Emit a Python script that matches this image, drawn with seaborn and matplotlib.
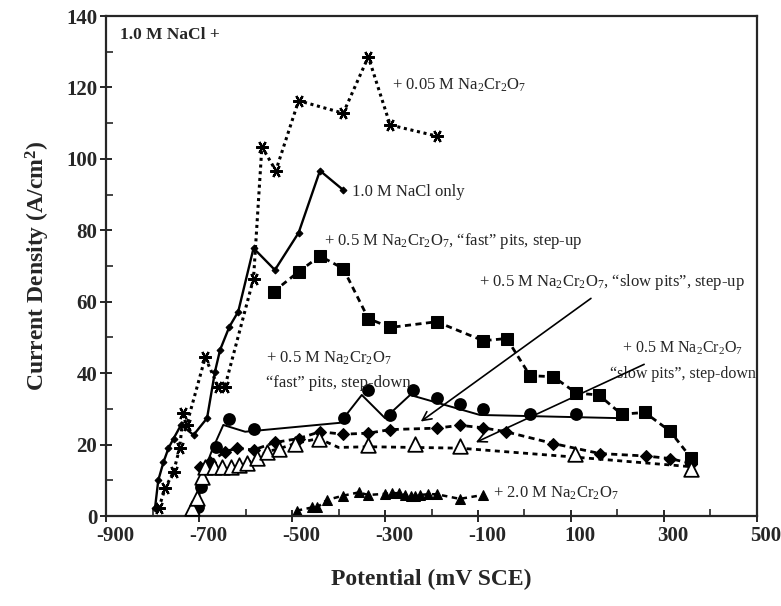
import numpy as np
import pandas as pd
import matplotlib
matplotlib.use('Agg')
import matplotlib.pyplot as plt
import matplotlib.transforms as mtransforms
from matplotlib.ticker import MultipleLocator, FixedLocator
import seaborn as sns

# ---- data (potential mV SCE, current density A/cm2) ----
# + 0.05 M Na2Cr2O7 (dotted, asterisks)
cr005_x = [-787, -773, -755, -742, -734, -727, -687, -659, -645, -583, -565, -535, -486, -390, -336, -289, -189]
cr005_y = [2.2, 7.8, 12.4, 19.0, 28.8, 25.5, 44.4, 36.2, 36.0, 66.5, 103.4, 96.7, 116.3, 112.8, 128.6, 109.5, 106.4]

# 1.0 M NaCl only (solid, small diamonds)
nacl_x = [-795, -788, -777, -766, -755, -739, -712, -683, -666, -655, -635, -616, -583, -537, -486, -440, -390]
nacl_y = [2.2, 10.0, 15.0, 19.0, 21.7, 25.5, 22.7, 27.4, 40.4, 46.5, 53.0, 57.2, 75.0, 68.9, 79.3, 96.7, 91.3]

# + 0.5 M Na2Cr2O7, "fast" pits, step-up (dashed, squares)
fast_up_x = [-540, -486, -440, -390, -336, -289, -189, -89, -38, 12, 62, 112, 160, 209, 259, 313, 359]
fast_up_y = [62.8, 68.4, 72.8, 69.3, 55.3, 52.8, 54.4, 49.1, 49.7, 39.3, 39.0, 34.4, 33.9, 28.5, 29.0, 23.8, 16.2]

# + 0.5 M Na2Cr2O7, "slow pits", step-up (solid line, filled circles)
slow_up_line_x = [-705, -698, -688, -672, -648, -601, -397, -350, -300, -246, -96, 205]
slow_up_line_y = [1.5, 7.0, 13.0, 18.5, 25.5, 23.6, 26.1, 33.9, 27.4, 33.9, 28.3, 27.4]
slow_up_pts_x = [-702, -695, -664, -636, -583, -388, -337, -289, -239, -189, -139, -89, 12, 112]
slow_up_pts_y = [2.4, 8.2, 19.4, 27.2, 24.4, 27.4, 35.3, 28.3, 35.3, 33.0, 31.5, 29.9, 28.5, 28.6]

# + 0.5 M Na2Cr2O7, "fast" pits, step-down (dashed, small filled diamonds)
fast_dn_x = [-698, -676, -644, -619, -583, -537, -486, -440, -390, -336, -289, -189, -139, -89, -40, 62, 162, 261, 313, 359]
fast_dn_y = [13.8, 15.2, 18.0, 19.0, 18.5, 20.6, 21.7, 23.6, 22.9, 23.2, 24.2, 24.6, 25.4, 24.7, 23.6, 20.3, 17.5, 16.8, 16.1, 14.7]

# + 0.5 M Na2Cr2O7, "slow pits", step-down (dashed, open triangles)
slow_dn_line_x = [-716, -705, -694, -687, -668, -650, -632, -614, -597, -576, -555, -529, -494, -443, -400, -336, -236, -139, 108, 359]
slow_dn_line_y = [2.2, 5.0, 11.0, 13.6, 13.6, 13.6, 13.8, 14.3, 14.8, 16.2, 18.0, 18.8, 20.3, 21.7, 19.2, 19.4, 19.2, 19.0, 16.5, 13.8]
slow_dn_pts_x = [-716, -705, -694, -687, -668, -650, -632, -614, -597, -576, -555, -529, -494, -443, -336, -236, -139, 108, 359]
slow_dn_pts_y = [2.2, 5.0, 11.0, 13.6, 13.6, 13.6, 13.8, 14.3, 14.8, 16.2, 18.0, 18.8, 20.3, 21.7, 19.9, 20.1, 19.6, 17.5, 13.2]

# + 2.0 M Na2Cr2O7 (dashed, filled triangles)
cr20_x = [-490, -457, -446, -425, -390, -357, -336, -300, -285, -270, -256, -245, -236, -225, -207, -189, -139, -89]
cr20_y = [1.5, 2.4, 2.4, 4.5, 5.7, 6.6, 5.9, 6.2, 6.4, 6.4, 5.8, 5.6, 5.6, 5.9, 6.1, 6.1, 4.8, 5.9]

x_ticks = [-900, -700, -500, -300, -100, 100, 300, 500]

sns.set_style('ticks')
plt.rcParams['font.family'] = ['Liberation Serif', 'DejaVu Serif']
plt.rcParams['mathtext.fontset'] = 'custom'
plt.rcParams['mathtext.rm'] = 'Liberation Serif'
plt.rcParams['mathtext.it'] = 'Liberation Serif:italic'
plt.rcParams['mathtext.bf'] = 'Liberation Serif:bold'
plt.rcParams['axes.unicode_minus'] = False

fig = plt.figure(figsize=(7.81, 6.06), dpi=100)
ax = fig.add_axes([0.136, 0.1485, 0.833, 0.825])

k = 'black'
common = dict(ax=ax, color=k, estimator=None, sort=False, legend=False)

# 0.05 M dichromate
sns.lineplot(x=cr005_x, y=cr005_y, linestyle=(0, (1, 1.2)), linewidth=2.2,
             marker=(6, 2, 30), markersize=9, markeredgewidth=1.6,
             markeredgecolor=k, **common)

# NaCl only
sns.lineplot(x=nacl_x, y=nacl_y, linestyle='-', linewidth=1.7,
             marker='D', markersize=3.5, markeredgecolor=k, **common)

# fast pits step-up
sns.lineplot(x=fast_up_x, y=fast_up_y, linestyle=(0, (2.2, 1.6)), linewidth=2.0,
             marker='s', markersize=9, markeredgecolor=k, **common)

# slow pits step-up
sns.lineplot(x=slow_up_line_x, y=slow_up_line_y, linestyle='-', linewidth=1.4, **common)
sns.scatterplot(x=slow_up_pts_x, y=slow_up_pts_y, ax=ax, color=k, marker='o',
                s=85, edgecolor=k, linewidth=0, legend=False, zorder=3)

# fast pits step-down
sns.lineplot(x=fast_dn_x, y=fast_dn_y, linestyle=(0, (2.2, 1.6)), linewidth=2.0,
             marker='D', markersize=6, markeredgecolor=k, **common)

# slow pits step-down
sns.lineplot(x=slow_dn_line_x, y=slow_dn_line_y, linestyle=(0, (1.8, 1.6)), linewidth=2.0, **common)
sns.scatterplot(x=slow_dn_pts_x, y=slow_dn_pts_y, ax=ax, marker='^', s=110,
                facecolor='white', edgecolor=k, linewidth=1.3, legend=False, zorder=3)

# 2.0 M dichromate
sns.lineplot(x=cr20_x, y=cr20_y, linestyle=(0, (2.2, 1.8)), linewidth=1.8,
             marker='^', markersize=7, markeredgecolor=k, **common)

# ---- annotations ----
na = r'Na$_2$Cr$_2$O$_7$'
fs = 12
ax.text(-870, 133.5, '1.0 M NaCl +', fontsize=12.5, fontweight='bold')
ax.text(-285, 120.5, '+ 0.05 M ' + na, fontsize=fs, va='center')
ax.text(-372, 90.8, '1.0 M NaCl only', fontsize=fs, va='center')
ax.text(-432, 77.0, '+ 0.5 M ' + na + ', \u201cfast\u201d pits, step-up', fontsize=fs, va='center')
ax.text(-97, 65.5, '+ 0.5 M ' + na + ', \u201cslow pits\u201d, step-up', fontsize=fs, va='center')
ax.text(340, 47.0, '+ 0.5 M ' + na, fontsize=11.5, va='center', ha='center')
ax.text(340, 39.8, '\u201cslow pits\u201d, step-down', fontsize=11.5, va='center', ha='center')
ax.text(-557, 44.2, '+ 0.5 M ' + na, fontsize=fs, va='center')
ax.text(-557, 37.2, '\u201cfast\u201d pits, step-down', fontsize=fs, va='center')
ax.text(-67, 6.3, '+ 2.0 M ' + na, fontsize=fs, va='center')

arrow = dict(arrowstyle='->', color=k, lw=1.2, mutation_scale=16)
ax.annotate('', xy=(-228, 26.0), xytext=(148, 61.4), arrowprops=arrow)
ax.annotate('', xy=(-110, 20.3), xytext=(263, 42.8), arrowprops=arrow)

# ---- axes ----
ax.set_xlim(-900, 500)
ax.set_ylim(0, 140)
ax.xaxis.set_major_locator(FixedLocator(x_ticks))
ax.xaxis.set_minor_locator(MultipleLocator(100))
ax.yaxis.set_major_locator(MultipleLocator(20))
ax.yaxis.set_minor_locator(MultipleLocator(10))
ax.tick_params(which='major', direction='inout', length=9, width=1.4, labelsize=15)
ax.tick_params(axis='x', which='major', pad=3)
ax.tick_params(axis='y', which='major', pad=2)
ax.tick_params(which='minor', direction='in', length=5, width=1.2)
for lab in ax.get_xticklabels() + ax.get_yticklabels():
    lab.set_fontweight('bold')
# x tick labels sit a little right of their ticks in the original
shift = mtransforms.ScaledTranslation(9 / 100, 0, fig.dpi_scale_trans)
for lab in ax.get_xticklabels():
    lab.set_transform(lab.get_transform() + shift)
for s in ax.spines.values():
    s.set_linewidth(1.6)
    s.set_visible(True)

ax.set_xlabel('Potential (mV SCE)', fontsize=17, fontweight='bold', labelpad=16)
ax.set_ylabel(r'Current Density (A/cm$^\mathbf{2}$)', fontsize=17, fontweight='bold', labelpad=10)

fig.savefig('out.png', dpi=100)
